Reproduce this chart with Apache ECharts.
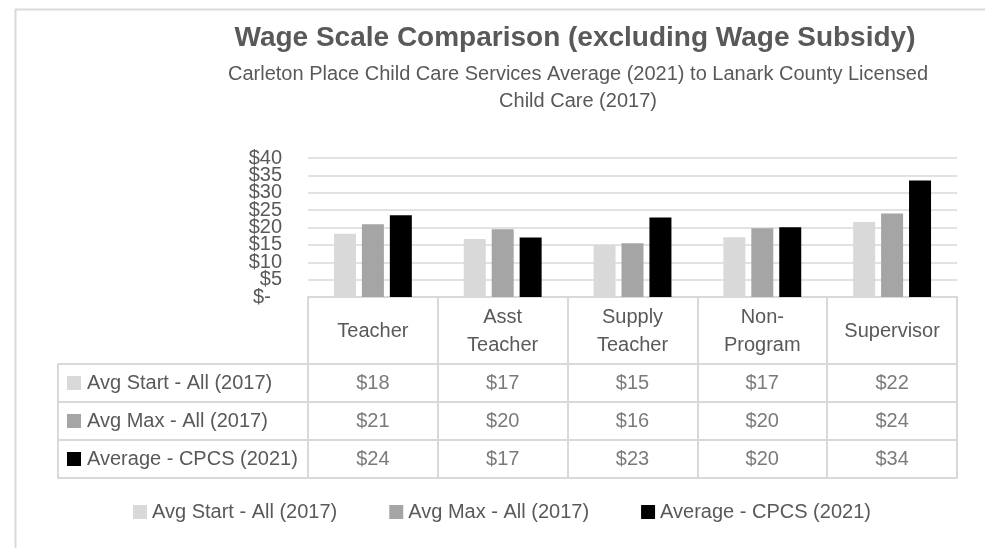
<!DOCTYPE html>
<html>
<head>
<meta charset="utf-8">
<title>Wage Scale Comparison</title>
<script src="https://cdn.jsdelivr.net/npm/echarts@6.0.0/dist/echarts.min.js"></script>
<style>
	html, body { margin: 0; padding: 0; background: #fff; }
	#chart { width: 985px; height: 548px; }
</style>
</head>
<body>
<div id="chart"></div>
<script>
// categories and values
var categories = ['Teacher', 'Asst\nTeacher', 'Supply\nTeacher', 'Non-\nProgram', 'Supervisor'];
var seriesNames = ['Avg Start - All (2017)', 'Avg Max - All (2017)', 'Average - CPCS (2021)'];
var avgStart = [18.2, 16.7, 15.0, 17.2, 21.6];
var avgMax = [20.9, 19.5, 15.5, 19.8, 24.0];
var avgCpcs = [23.5, 17.1, 22.9, 20.1, 33.5];
var yMin = 0, yMax = 40, yStep = 5;

var allValues = [avgStart, avgMax, avgCpcs];
var colors = ['#d9d9d9', '#a5a5a5', '#000000'];
var font = 'Liberation Sans';
var txt = '#595959';
var gridLine = '#d9d9d9';

var dom = document.getElementById('chart');
var myChart = echarts.init(dom, null, {renderer: 'canvas'});

var cellLine = {show: true, lineStyle: {color: gridLine, width: 2}};

// dollar labels; the ticks sit so close that they are split over two axes
// (even tens on one, odd fives on the other) so none gets dropped
function dollar(v){
	return v === 0 ? '$-  ' : '$' + v;
}
var yLabel = {margin: 26, fontSize: 20, color: txt, fontFamily: font};

// rich keys for the legend squares inside the data table
var keyRich = {t: {padding: [0, 0, 0, 6], fontSize: 20, color: txt, fontFamily: font}};
colors.forEach(function(c, i){
	keyRich['k' + i] = {width: 14, height: 14, backgroundColor: c};
});

var series = [];
allValues.forEach(function(vals, i){
	series.push({
		name: seriesNames[i],
		type: 'bar',
		xAxisIndex: 0,
		yAxisIndex: 0,
		data: vals,
		barWidth: 22,
		barGap: '27%',
		itemStyle: {color: colors[i]}
	});
});
// table cells, one row per series
allValues.forEach(function(vals, i){
	series.push({
		name: 'table ' + i,
		type: 'scatter',
		xAxisIndex: 2,
		yAxisIndex: 3,
		silent: true,
		symbolSize: 1,
		itemStyle: {color: 'rgba(0,0,0,0)'},
		data: vals.map(function(v, j){ return [j, i, v]; }),
		label: {
			show: true,
			position: 'inside',
			formatter: function(p){ return '$' + Math.round(p.value[2]); },
			fontSize: 20,
			color: txt,
			fontFamily: font
		}
	});
});

var option = {
	animation: false,
	backgroundColor: '#fff',
	title: [
		{
			text: 'Wage Scale Comparison (excluding Wage Subsidy)',
			left: 575, top: 24, padding: 0, textAlign: 'center',
			textStyle: {fontSize: 28, fontWeight: 'bold', color: txt, fontFamily: font}
		},
		{
			text: 'Carleton Place Child Care Services Average (2021) to Lanark County Licensed\nChild Care (2017)',
			left: 578, top: 61, padding: 0, textAlign: 'center',
			textStyle: {fontSize: 20, fontWeight: 'normal', lineHeight: 27, color: txt, fontFamily: font}
		}
	],
	legend: {
		data: seriesNames,
		left: 133, top: 502, padding: 0,
		icon: 'rect', itemWidth: 14, itemHeight: 14, itemGap: 52,
		textStyle: {fontSize: 20, color: txt, fontFamily: font}
	},
	graphic: [{
		type: 'rect', left: 13, top: 7, silent: true, z: -10,
		shape: {width: 1000, height: 600},
		style: {fill: 'none', stroke: gridLine, lineWidth: 2}
	}],
	grid: [
		{left: 308, top: 158, width: 649, height: 139},	// bars
		{left: 308, top: 297, width: 649, height: 67},	// table header
		{left: 308, top: 364, width: 649, height: 114},	// table values
		{left: 58, top: 364, width: 250, height: 114}	// table keys
	],
	xAxis: [
		{gridIndex: 0, type: 'category', data: categories,
			axisLine: cellLine, axisTick: {show: false}, axisLabel: {show: false}},
		{gridIndex: 1, type: 'category', data: categories,
			axisLine: cellLine, axisTick: {show: false}, splitLine: cellLine,
			axisLabel: {inside: true, margin: 33, verticalAlign: 'middle', interval: 0,
				fontSize: 20, lineHeight: 28, color: txt, fontFamily: font}},
		{gridIndex: 2, type: 'category', data: categories,
			axisLine: cellLine, axisTick: {show: false}, axisLabel: {show: false}, splitLine: cellLine},
		{gridIndex: 3, type: 'category', data: ['key'],
			axisLine: cellLine, axisTick: {show: false}, axisLabel: {show: false}, splitLine: cellLine}
	],
	yAxis: [
		{gridIndex: 0, type: 'value', position: 'left', min: yMin, max: yMax, interval: yStep,
			axisLine: {show: false}, axisTick: {show: false},
			splitLine: {lineStyle: {color: gridLine, width: 1.5}},
			axisLabel: Object.assign({}, yLabel, {showMinLabel: true, showMaxLabel: true,
				formatter: function(v){ return v % (2 * yStep) === 0 ? dollar(v) : ''; }})},
		{gridIndex: 0, type: 'value', position: 'left', offset: 0, min: yMin, max: yMax, interval: yStep,
			axisLine: {show: false}, axisTick: {show: false}, splitLine: {show: false},
			axisLabel: Object.assign({}, yLabel, {showMinLabel: false, showMaxLabel: false,
				formatter: function(v){ return v % (2 * yStep) === 0 ? '' : dollar(v); }})},
		{gridIndex: 1, type: 'category', data: [''], show: false},
		{gridIndex: 2, type: 'category', inverse: true, data: seriesNames,
			axisLine: {show: false}, axisTick: {show: false}, axisLabel: {show: false}, splitLine: cellLine},
		{gridIndex: 3, type: 'category', inverse: true, data: seriesNames,
			axisLine: cellLine, axisTick: {show: false}, splitLine: cellLine,
			axisLabel: {inside: true, margin: 9, rich: keyRich,
				formatter: function(v, i){ return '{k' + i + '|}{t|' + v + '}'; }}}
	],
	series: series
};

myChart.setOption(option, true);
</script>
</body>
</html>
